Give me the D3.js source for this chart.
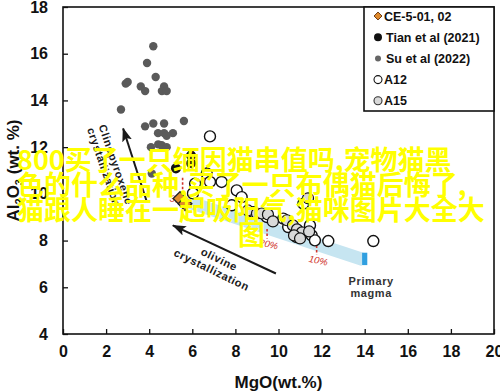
<!DOCTYPE html>
<html>
<head>
<meta charset="utf-8">
<script src="https://cdn.jsdelivr.net/npm/d3@7/dist/d3.min.js"></script>
<style>
  body { margin: 0; background: #fff; }
  svg { display: block; font-family: "Liberation Sans", Arial, sans-serif; }
</style>
</head>
<body>
<svg id="chart" width="500" height="392"></svg>
<script>
// values: [MgO, Al2O3] in wt.%
var ceSamples = [[5.43, 9.80], [5.66, 9.58]];
var tianPoints = [[5.94, 11.64], [5.94, 11.31], [5.24, 11.09]];
var suPoints = [
  [4.19, 16.32], [3.90, 15.60], [4.30, 15.00], [2.91, 14.72], [3.00, 14.79],
  [3.61, 14.60], [3.81, 14.40], [4.69, 14.60], [4.59, 14.40], [4.81, 14.40],
  [2.69, 13.61], [5.61, 13.12], [3.81, 12.89], [4.19, 13.01], [4.69, 13.01],
  [4.41, 12.60], [4.69, 12.60], [4.81, 12.49], [5.10, 12.60], [4.08, 12.00],
  [4.42, 12.12], [4.58, 12.08], [4.81, 12.00], [4.12, 10.87]
];
var a12Points = [
  [6.82, 12.46], [6.67, 10.87], [6.82, 10.51], [7.36, 10.51], [6.13, 10.44],
  [6.03, 10.02], [8.06, 10.15], [8.29, 9.86], [7.83, 9.51], [8.83, 9.22],
  [9.45, 9.01], [10.22, 8.94], [10.45, 8.58], [10.84, 8.15], [11.46, 8.65],
  [11.54, 8.22], [11.69, 8.01], [12.31, 7.98], [14.40, 7.98], [11.15, 9.58]
];
var a15Points = [
  [8.58, 9.29], [9.00, 9.16], [9.23, 9.16], [9.51, 9.12], [9.74, 8.82],
  [10.39, 8.87], [10.67, 8.65], [10.86, 8.48], [11.09, 8.35], [11.42, 8.39],
  [10.72, 8.22], [11.00, 8.09], [11.37, 9.81]
];
// olivine addition path from the CE-5 basalts to the primary magma
var meltPath = [[5.6, 9.72], [13.95, 7.18]];
var meltSteps = [["30%", 5.55], ["20%", 9.47], ["10%", 11.77]];

var xTicks = [0, 2, 4, 6, 8, 10, 12, 14, 16, 18, 20];
var yTicks = [4, 6, 8, 10, 12, 14, 16, 18];
var legendNames = ["CE-5-01, 02", "Tian et al (2021)", "Su et al (2022)", "A12", "A15"];
var overlayLines = [
  "800买了一只缅因猫串值吗,宠物猫黑",
  "色的什么品种,买了一只布偶猫后悔了,",
  "猫跟人睡在一起吸阳气,猫咪图片大全大",
  "图"
];

var svg = d3.select("#chart");
var padL = 63, padR = 494, padT = 7, padB = 334;

var x = d3.scaleLinear().domain([0, 20]).range([padL, padR]);
var y = d3.scaleLinear().domain([4, 18]).range([padB, padT]);

var defs = svg.append("defs");
defs.append("marker")
    .attr("id", "head")
    .attr("markerUnits", "userSpaceOnUse")
    .attr("viewBox", "0 0 14 10")
    .attr("refX", 13).attr("refY", 5)
    .attr("markerWidth", 14).attr("markerHeight", 10)
    .attr("orient", "auto")
  .append("path")
    .attr("d", "M0,0 L14,5 L0,10 L3,5 z")
    .style("fill", "#1a1a1a");

// light blue band and primary magma block
svg.append("line")
    .attr("x1", x(meltPath[0][0])).attr("y1", y(meltPath[0][1]))
    .attr("x2", x(meltPath[1][0])).attr("y2", y(meltPath[1][1]))
    .style("stroke", "#c6e5f1").style("stroke-width", 13);

svg.append("rect")
    .attr("x", x(13.88)).attr("y", y(7.48))
    .attr("width", x(14.12) - x(13.88)).attr("height", y(6.95) - y(7.48))
    .style("fill", "#2f9fe0");

var slope = (meltPath[1][1] - meltPath[0][1]) / (meltPath[1][0] - meltPath[0][0]);
var steps = svg.append("g");
meltSteps.forEach(function(d, i) {
  var yc = meltPath[0][1] + slope * (d[1] - meltPath[0][0]);
  var y1 = i === 0 ? yc + 0.95 : yc - 0.05;
  var y2 = i === 0 ? yc + 0.3 : yc - 0.45;
  steps.append("line")
      .attr("x1", x(d[1])).attr("x2", x(d[1]))
      .attr("y1", y(y1)).attr("y2", y(y2))
      .style("stroke", "#d0342c").style("stroke-width", 1.6)
      .style("stroke-dasharray", "2.5,2");
  steps.append("text")
      .attr("transform", "translate(" + (x(d[1]) + (i === 0 ? -4 : 1)) + "," + (y(i === 0 ? y2 - 0.05 : y2) + 9) + ") rotate(12)")
      .attr("text-anchor", "middle")
      .style("font-size", "9.5px").style("font-style", "italic")
      .style("fill", "#d0342c")
      .text(d[0]);
});

// crystallization arrows
svg.append("line")
    .attr("x1", x(3.90)).attr("y1", y(9.63))
    .attr("x2", x(2.79)).attr("y2", y(12.8))
    .attr("marker-end", "url(#head)")
    .style("stroke", "#1a1a1a").style("stroke-width", 2);
svg.append("line")
    .attr("x1", x(9.88)).attr("y1", y(6.59))
    .attr("x2", x(5.10)).attr("y2", y(8.65))
    .attr("marker-end", "url(#head)")
    .style("stroke", "#1a1a1a").style("stroke-width", 2);

var notes = [
  ["Clinopyroxene", 2.45, 11.25, 71],
  ["crystallization", 1.90, 11.15, 71],
  ["olivine", 7.25, 7.2, 26],
  ["crystallization", 6.9, 6.75, 26]
];
svg.append("g").selectAll("text")
    .data(notes)
  .enter().append("text")
    .attr("transform", function(d) { return "translate(" + x(d[1]) + "," + y(d[2]) + ") rotate(" + d[3] + ")"; })
    .attr("text-anchor", "middle")
    .attr("dy", "0.35em")
    .style("font-size", "11px").style("font-weight", "bold")
    .style("letter-spacing", "0.6px").style("fill", "#1a1a1a")
    .text(function(d) { return d[0]; });

svg.append("g").selectAll("text")
    .data(["Primary", "magma"])
  .enter().append("text")
    .attr("x", x(14.3))
    .attr("y", function(d, i) { return y(6.1) + i * 12.5; })
    .attr("text-anchor", "middle")
    .style("font-size", "11px").style("font-weight", "bold")
    .style("letter-spacing", "0.6px").style("fill", "#333")
    .text(function(d) { return d; });

// data points
function dots(data, r, fill, stroke, sw) {
  svg.append("g").selectAll("circle")
      .data(data)
    .enter().append("circle")
      .attr("cx", function(d) { return x(d[0]); })
      .attr("cy", function(d) { return y(d[1]); })
      .attr("r", r)
      .style("fill", fill)
      .style("stroke", stroke)
      .style("stroke-width", sw);
}
dots(suPoints, 4.2, "#5a5a5a", "none", 0);
dots(tianPoints, 5, "#111", "none", 0);
dots(a12Points, 5.5, "#fff", "#111", 1.4);
dots(a15Points, 5.5, "#d9d9d9", "#111", 1.2);

var diamond = d3.symbol().type(d3.symbolDiamond2).size(120);
svg.append("g").selectAll("path")
    .data(ceSamples)
  .enter().append("path")
    .attr("d", diamond)
    .attr("transform", function(d) { return "translate(" + x(d[0]) + "," + y(d[1]) + ")"; })
    .style("fill", "#e08a2c").style("stroke", "#222").style("stroke-width", 1.3);

// frame and axes
svg.append("rect")
    .attr("x", padL).attr("y", padT)
    .attr("width", padR - padL).attr("height", padB - padT)
    .style("fill", "none").style("stroke", "#111").style("stroke-width", 1.6);

var xAxis = svg.append("g")
    .attr("transform", "translate(0," + padB + ")")
    .call(d3.axisBottom(x).tickValues(xTicks).tickSizeInner(-5).tickSizeOuter(0).tickPadding(12));
var yAxis = svg.append("g")
    .attr("transform", "translate(" + padL + ",0)")
    .call(d3.axisLeft(y).tickValues(yTicks).tickSizeInner(-5).tickSizeOuter(0).tickPadding(15));
[xAxis, yAxis].forEach(function(a) {
  a.select(".domain").remove();
  a.selectAll("line").style("stroke", "#111").style("stroke-width", 1.3);
  a.selectAll("text")
      .style("font-family", "'Liberation Sans', Arial, sans-serif")
      .style("font-size", "16px").style("font-weight", "bold").style("fill", "#111");
});

svg.append("text")
    .attr("x", (padL + padR) / 2).attr("y", 388)
    .attr("text-anchor", "middle")
    .style("font-size", "17px").style("font-weight", "bold").style("fill", "#111")
    .text("MgO(wt.%)");

var yl = svg.append("text")
    .attr("transform", "translate(19," + ((padT + padB) / 2) + ") rotate(-90)")
    .attr("text-anchor", "middle")
    .style("font-size", "17px").style("font-weight", "bold").style("fill", "#111");
yl.append("tspan").text("Al");
yl.append("tspan").attr("dy", 4).style("font-size", "11px").text("2");
yl.append("tspan").attr("dy", -4).text("O");
yl.append("tspan").attr("dy", 4).style("font-size", "11px").text("3");
yl.append("tspan").attr("dy", -4).text(" (wt. %)");

// legend
var legend = svg.append("g");
legend.append("rect")
    .attr("x", 364).attr("y", padT)
    .attr("width", padR - 364).attr("height", 104)
    .style("fill", "#fff").style("stroke", "#111").style("stroke-width", 1.6);
var rows = legend.selectAll("g.row")
    .data(legendNames)
  .enter().append("g")
    .attr("class", "row")
    .attr("transform", function(d, i) { return "translate(378," + (16 + i * 21.2) + ")"; });
rows.each(function(d, i) {
  var g = d3.select(this);
  if (i === 0) {
    g.append("path").attr("d", d3.symbol().type(d3.symbolDiamond2).size(40))
        .style("fill", "#e08a2c").style("stroke", "#6b3a12").style("stroke-width", 1);
  } else {
    var st = [null, ["#111", "none", 4], ["#666", "none", 3], ["#fff", "#111", 4], ["#d9d9d9", "#333", 4]][i];
    g.append("circle").attr("r", st[2])
        .style("fill", st[0]).style("stroke", st[1]).style("stroke-width", 1.1);
  }
  g.append("text")
      .attr("x", i === 1 || i === 2 ? 8 : 6).attr("dy", "0.36em")
      .style("font-size", "12.5px").style("font-weight", "bold").style("fill", "#111")
      .text(d);
});

// yellow caption laid over the chart
svg.append("g").selectAll("text")
    .data(overlayLines)
  .enter().append("text")
    .attr("x", function(d, i) { return i === 3 ? 238 : 17; })
    .attr("y", function(d, i) { return 170 + i * 25; })
    .style("font-family", "'Noto Sans CJK SC', sans-serif")
    .style("font-size", "27px").style("font-weight", "bold")
    .style("fill", "#ffff00")
    .text(function(d) { return d; });
</script>
</body>
</html>
